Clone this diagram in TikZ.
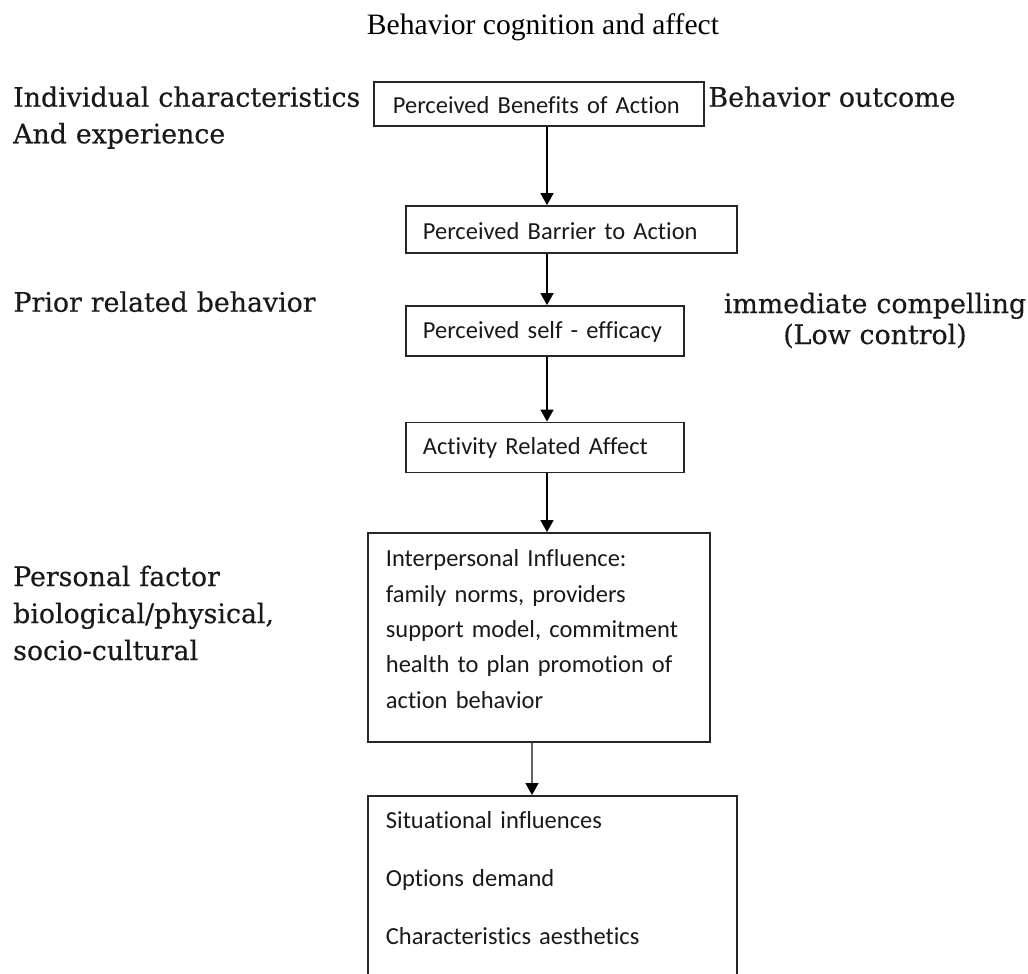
\documentclass[tikz,border=0pt]{standalone}
\usepackage{fontspec}
\setmainfont{Liberation Serif}
\newfontfamily\lblfont[FakeBold=0.4]{DejaVu Serif}
\newfontfamily\boxfont[Ligatures=NoCommon]{Carlito}
\usetikzlibrary{arrows.meta}
\begin{document}
\begin{tikzpicture}[x=1pt,y=-1pt,
  box/.style={draw=black!85, line width=1.8pt, inner ysep=0pt, align=left,
    execute at begin node={\hyphenpenalty=10000\exhyphenpenalty=10000},
    font=\boxfont\fontsize{24.5}{30}\selectfont, text=black!90},
  lbl/.style={inner sep=0pt, align=left, text width=400pt,
    font=\lblfont\fontsize{26.8}{36.6}\selectfont, text=black!90},
  arr/.style={line width=1.5pt, draw=black, -{Triangle[length=12pt,width=13pt]}},
  thinarr/.style={line width=1.1pt, draw=black!60, -{Triangle[length=12pt,width=13pt,color=black]}}]
\useasboundingbox (0,0) rectangle (1028,974);
\clip (0,0) rectangle (1028,974);
% title
\node[anchor=base, inner sep=0pt, font=\fontsize{29.6}{34}\selectfont] (title) at (543,35) {Behavior cognition and affect};
% boxes
\node[box, anchor=base west, inner xsep=19pt, text width=292pt, text height=31pt, text depth=13pt] (b1) at (373,113) {Perceived Benefits of Action};
\node[box, anchor=base west, inner xsep=17pt, text width=297pt, text height=33pt, text depth=14pt] (b2) at (405,239) {Perceived Barrier to Action};
\node[box, anchor=base west, inner xsep=17pt, text width=244pt, text height=32pt, text depth=18pt] (b3) at (405,338) {Perceived self - efficacy};
\node[box, anchor=base west, inner xsep=17pt, text width=244pt, text height=31.5pt, text depth=18.5pt] (b4) at (405,454) {Activity Related Affect};
\node[box, anchor=base west, inner xsep=18pt, text width=306pt, text height=33.7pt, text depth=175.3pt,
  font=\boxfont\fontsize{24.5}{35.4}\selectfont] (b5) at (367,566.7) {Interpersonal Influence:\\family norms, providers\\support model, commitment\\health to plan promotion of\\action behavior};
\node[box, anchor=base west, inner xsep=18pt, text width=333pt, text height=32.3pt, text depth=172pt,
  font=\boxfont\fontsize{24.5}{58.3}\selectfont] (b6) at (367,828.3) {Situational influences\\Options demand\\Characteristics aesthetics};
% side labels
\node[lbl, anchor=base west] (l1) at (13,106.7) {Individual characteristics\\And experience};
\node[lbl, anchor=base west] (r1) at (708.3,106.7) {Behavior outcome};
\node[lbl, anchor=base west] (l2) at (13.3,311.7) {Prior related behavior};
\node[lbl, anchor=base, align=center, text width=320pt, font=\lblfont\fontsize{26.8}{31}\selectfont] (r2) at (875,313) {immediate compelling\\(Low control)};
\node[lbl, anchor=base west, font=\lblfont\fontsize{26.8}{37}\selectfont] (l3) at (13,586) {Personal factor\\biological/physical,\\socio-cultural};
% connectors
\coordinate (ax) at (547,0);
\coordinate (bx) at (532,0);
\draw[arr] (ax |- b1.south) -- (ax |- b2.north);
\draw[arr] (ax |- b2.south) -- (ax |- b3.north);
\draw[arr] (ax |- b3.south) -- (ax |- b4.north);
\draw[arr] (ax |- b4.south) -- (ax |- b5.north);
\draw[thinarr] (bx |- b5.south) -- (bx |- b6.north);
\end{tikzpicture}
\end{document}
